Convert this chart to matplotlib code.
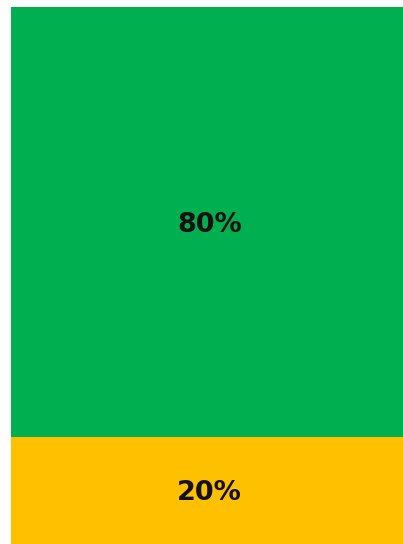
import matplotlib.pyplot as plt

# Stacked share values (percent)
segments = ['Bottom', 'Top']
shares = [20, 80]
colors = ['#FFC000', '#00B050']

fig = plt.figure(figsize=(4.03, 5.44), dpi=100)
ax = fig.add_axes([10.5 / 403, 0, 1 - 10.5 / 403, 1 - 7 / 544])

bottom = 0
for name, value, color in zip(segments, shares, colors):
    ax.bar(0, value, bottom=bottom, width=1.0, color=color, linewidth=0)
    ax.annotate(f'{value}%', xy=(0, bottom + value / 2), xytext=(2, -2),
                textcoords='offset points', ha='center', va='center',
                fontsize=19.5, fontweight='bold', color='#111111')
    bottom += value

ax.set_xlim(-0.5, 0.5)
ax.set_ylim(0, sum(shares))
ax.axis('off')

fig.savefig('out.png', dpi=100)
